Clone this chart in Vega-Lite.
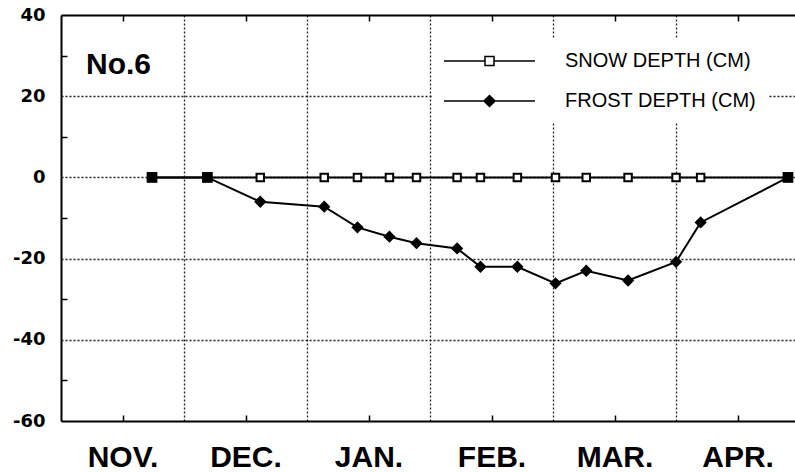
{
  "$schema": "https://vega.github.io/schema/vega-lite/v6.json",
  "width": 734,
  "height": 406,
  "autosize": {"type": "none"},
  "padding": {"left": 61, "top": 15, "right": 0, "bottom": 51},
  "background": "white",
  "config": {"view": {"stroke": null}},
  "title": {"text": "No.6", "anchor": "start", "frame": "group", "font": "Liberation Sans", "fontSize": 30, "fontWeight": "bold", "color": "black", "baseline": "alphabetic", "offset": 0, "dx": 25, "dy": 98},
  "data": {"values": [
    {"series": "SNOW DEPTH (CM)", "month": 0.74, "depth": 0},
    {"series": "SNOW DEPTH (CM)", "month": 1.19, "depth": 0},
    {"series": "SNOW DEPTH (CM)", "month": 1.62, "depth": 0},
    {"series": "SNOW DEPTH (CM)", "month": 2.14, "depth": 0},
    {"series": "SNOW DEPTH (CM)", "month": 2.41, "depth": 0},
    {"series": "SNOW DEPTH (CM)", "month": 2.67, "depth": 0},
    {"series": "SNOW DEPTH (CM)", "month": 2.89, "depth": 0},
    {"series": "SNOW DEPTH (CM)", "month": 3.22, "depth": 0},
    {"series": "SNOW DEPTH (CM)", "month": 3.41, "depth": 0},
    {"series": "SNOW DEPTH (CM)", "month": 3.71, "depth": 0},
    {"series": "SNOW DEPTH (CM)", "month": 4.02, "depth": 0},
    {"series": "SNOW DEPTH (CM)", "month": 4.27, "depth": 0},
    {"series": "SNOW DEPTH (CM)", "month": 4.61, "depth": 0},
    {"series": "SNOW DEPTH (CM)", "month": 5.0, "depth": 0},
    {"series": "SNOW DEPTH (CM)", "month": 5.2, "depth": 0},
    {"series": "SNOW DEPTH (CM)", "month": 5.91, "depth": 0},
    {"series": "FROST DEPTH (CM)", "month": 0.74, "depth": 0},
    {"series": "FROST DEPTH (CM)", "month": 1.19, "depth": 0},
    {"series": "FROST DEPTH (CM)", "month": 1.62, "depth": -6.0},
    {"series": "FROST DEPTH (CM)", "month": 2.14, "depth": -7.2},
    {"series": "FROST DEPTH (CM)", "month": 2.41, "depth": -12.3},
    {"series": "FROST DEPTH (CM)", "month": 2.67, "depth": -14.6},
    {"series": "FROST DEPTH (CM)", "month": 2.89, "depth": -16.2},
    {"series": "FROST DEPTH (CM)", "month": 3.22, "depth": -17.5},
    {"series": "FROST DEPTH (CM)", "month": 3.41, "depth": -22.0},
    {"series": "FROST DEPTH (CM)", "month": 3.71, "depth": -22.0},
    {"series": "FROST DEPTH (CM)", "month": 4.02, "depth": -26.1},
    {"series": "FROST DEPTH (CM)", "month": 4.27, "depth": -23.0},
    {"series": "FROST DEPTH (CM)", "month": 4.61, "depth": -25.4},
    {"series": "FROST DEPTH (CM)", "month": 5.0, "depth": -20.8},
    {"series": "FROST DEPTH (CM)", "month": 5.2, "depth": -11.1},
    {"series": "FROST DEPTH (CM)", "month": 5.91, "depth": 0}
  ]},
  "encoding": {
    "y": {
      "field": "depth", "type": "quantitative",
      "scale": {"domain": [-60, 40], "nice": false, "zero": false},
      "axis": {
        "title": null,
        "values": [-60, -50, -40, -30, -20, -10, 0, 10, 20, 30, 40],
        "domainColor": "black", "domainWidth": 2,
        "tickColor": "black", "tickWidth": 1.5, "tickSize": -6,
        "tickOpacity": {"condition": {"test": "datum.value % 20 === 0", "value": 0}, "value": 1},
        "grid": true, "gridColor": "#222", "gridDash": [2, 2], "gridWidth": 1.3,
        "gridOpacity": {"condition": {"test": "datum.value % 20 !== 0 || datum.value === 40 || datum.value === -60", "value": 0}, "value": 1},
        "labelExpr": "datum.value % 20 === 0 ? '' + datum.value : ''",
        "labelFont": "DejaVu Sans", "labelFontWeight": "bold", "labelFontSize": 18, "labelColor": "black",
        "labelPadding": 22, "labelFlush": false, "labelOverlap": false
      }
    }
  },
  "layer": [
    {
      "mark": {"type": "line", "color": "black", "strokeWidth": 2},
      "encoding": {
        "x": {
          "field": "month", "type": "quantitative",
          "scale": {"domain": [0, 5.967], "nice": false, "zero": false},
          "axis": {
            "orient": "bottom", "title": null,
            "values": [0.5, 1, 1.5, 2, 2.5, 3, 3.5, 4, 4.5, 5, 5.5],
            "domainColor": "black", "domainWidth": 2,
            "tickColor": "black", "tickWidth": 1.5, "tickSize": -6,
            "tickOpacity": {"condition": {"test": "datum.value % 1 === 0", "value": 0}, "value": 1},
            "grid": true, "gridColor": "#222", "gridDash": [2, 2], "gridWidth": 1.3,
            "gridOpacity": {"condition": {"test": "datum.value % 1 !== 0", "value": 0}, "value": 1},
            "labelExpr": "datum.value % 1 === 0 ? '' : ['NOV.', 'DEC.', 'JAN.', 'FEB.', 'MAR.', 'APR.'][floor(datum.value)]",
            "labelFont": "Liberation Sans", "labelFontWeight": "bold", "labelFontSize": 30, "labelColor": "black",
            "labelPadding": 27, "labelFlush": false, "labelOverlap": false
          }
        },
        "detail": {"field": "series", "type": "nominal"}
      }
    },
    {
      "transform": [{"filter": "datum.series === 'SNOW DEPTH (CM)'"}],
      "mark": {"type": "point", "shape": "square", "filled": true, "stroke": "black", "strokeWidth": 2, "size": 56, "opacity": 1},
      "encoding": {
        "x": {
          "field": "month", "type": "quantitative",
          "scale": {"domain": [0, 5.967], "nice": false, "zero": false},
          "axis": null
        },
        "fill": {
          "field": "series", "type": "nominal",
          "scale": {"domain": ["SNOW DEPTH (CM)"], "range": ["white"]},
          "legend": {
            "title": null, "orient": "none", "legendX": 371, "legendY": 23,
            "padding": 12, "fillColor": "white",
            "symbolType": "M-4.55,0H-0.45M0.45,0H4.55M-0.45,-0.45H0.45V0.45H-0.45Z",
            "symbolSize": 400, "symbolOffset": 34.5, "labelOffset": 64.5,
            "symbolStrokeWidth": 1.5, "symbolStrokeColor": "black", "symbolOpacity": 1,
            "labelFont": "Liberation Sans", "labelFontSize": 20, "labelColor": "black", "labelLimit": 400
          }
        }
      }
    },
    {
      "transform": [{"filter": "datum.series === 'FROST DEPTH (CM)' && datum.depth < 0"}],
      "mark": {"type": "point", "shape": "diamond", "filled": true, "fill": "black", "strokeWidth": 2, "size": 90, "opacity": 1},
      "encoding": {
        "x": {
          "field": "month", "type": "quantitative",
          "scale": {"domain": [0, 5.967], "nice": false, "zero": false},
          "axis": null
        },
        "stroke": {
          "field": "series", "type": "nominal",
          "scale": {"domain": ["FROST DEPTH (CM)"], "range": ["black"]},
          "legend": {
            "title": null, "orient": "none", "legendX": 371, "legendY": 63,
            "padding": 12, "fillColor": "white",
            "symbolType": "M-4.55,0H4.55M0,-0.55L0.55,0L0,0.55L-0.55,0Z",
            "symbolSize": 400, "symbolOffset": 34.5, "labelOffset": 64.5,
            "symbolStrokeWidth": 1.5, "symbolFillColor": "black", "symbolOpacity": 1,
            "labelFont": "Liberation Sans", "labelFontSize": 20, "labelColor": "black", "labelLimit": 400
          }
        }
      }
    },
    {
      "transform": [{"filter": "datum.series === 'FROST DEPTH (CM)' && datum.depth === 0"}],
      "mark": {"type": "square", "color": "black", "size": 115, "opacity": 1},
      "encoding": {
        "x": {
          "field": "month", "type": "quantitative",
          "scale": {"domain": [0, 5.967], "nice": false, "zero": false},
          "axis": {
            "orient": "top", "title": null,
            "values": [0.5, 1.5, 2.5, 3.5, 4.5, 5.5],
            "domainColor": "black", "domainWidth": 2,
            "tickColor": "black", "tickWidth": 1.5, "tickSize": -6,
            "labels": false, "grid": false
          }
        }
      }
    }
  ],
  "resolve": {"axis": {"x": "independent"}}
}
